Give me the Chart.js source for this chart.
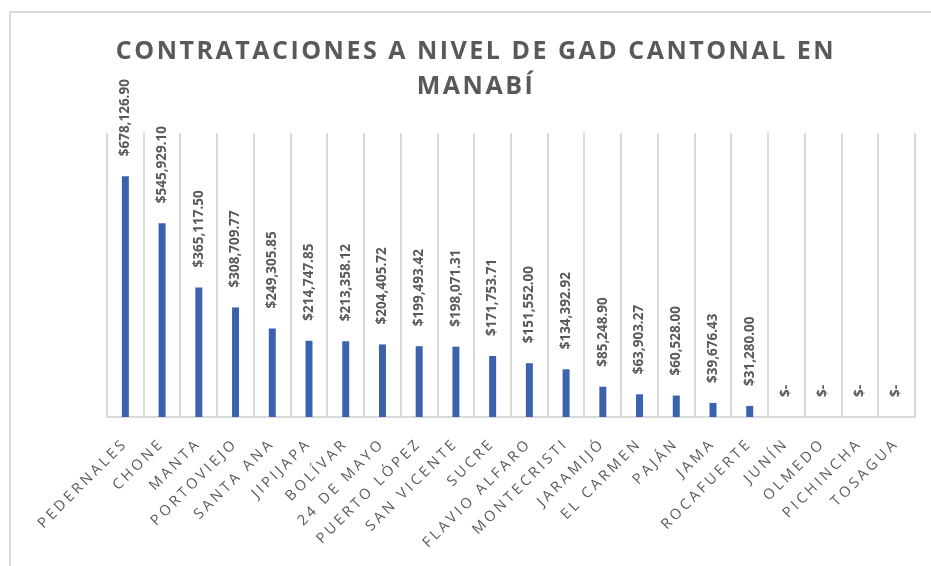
<!DOCTYPE html>
<html>
<head>
<meta charset="utf-8">
<script src="https://cdn.jsdelivr.net/npm/chart.js@4"></script>
<style>
  html, body { margin: 0; padding: 0; background: #fff; overflow: hidden; }
  #frame { position: absolute; left: 9px; top: 11px; width: 960px; height: 600px; border: 2px solid #d9d9d9; }
  #chart { position: absolute; left: 0; top: 0; }
</style>
</head>
<body>
<div id="frame"></div>
<canvas id="chart" width="931" height="566"></canvas>
<script>
const tituloLineas = ['CONTRATACIONES A NIVEL DE GAD CANTONAL EN', 'MANABÍ'];

const cantones = ['PEDERNALES', 'CHONE', 'MANTA', 'PORTOVIEJO', 'SANTA ANA', 'JIPIJAPA', 'BOLÍVAR',
    '24 DE MAYO', 'PUERTO LÓPEZ', 'SAN VICENTE', 'SUCRE', 'FLAVIO ALFARO', 'MONTECRISTI', 'JARAMIJÓ',
    'EL CARMEN', 'PAJÁN', 'JAMA', 'ROCAFUERTE', 'JUNÍN', 'OLMEDO', 'PICHINCHA', 'TOSAGUA'];

const montos = [678126.90, 545929.10, 365117.50, 308709.77, 249305.85, 214747.85, 213358.12,
    204405.72, 199493.42, 198071.31, 171753.71, 151552.00, 134392.92, 85248.90,
    63903.27, 60528.00, 39676.43, 31280.00, 0, 0, 0, 0];

const gris = '#595959';

function formatoMonto(v) {
    if (!v) return '$-';
    return '$' + v.toLocaleString('en-US', { minimumFractionDigits: 2, maximumFractionDigits: 2 });
}

// spaced-out letters for the category labels, like the Excel original
const espaciado = {
    id: 'espaciado',
    beforeLayout(chart) { chart.ctx.letterSpacing = '3.2px'; },
    beforeDraw(chart) { chart.ctx.letterSpacing = '3.2px'; }
};

const etiquetas = {
    id: 'etiquetas',
    beforeDatasetsDraw(chart) {
        // vertical separators between categories
        const ctx = chart.ctx;
        const x = chart.scales.x;
        const area = chart.chartArea;
        const paso = x.width / cantones.length;
        ctx.save();
        ctx.strokeStyle = '#d9d9d9';
        ctx.lineWidth = 2;
        ctx.beginPath();
        for (let i = 0; i <= cantones.length; i++) {
            const px = Math.round(x.left + i * paso);
            ctx.moveTo(px, area.top);
            ctx.lineTo(px, area.bottom);
        }
        ctx.stroke();
        ctx.restore();
    },
    afterDatasetsDraw(chart) {
        const ctx = chart.ctx;
        const meta = chart.getDatasetMeta(0);
        ctx.save();
        ctx.letterSpacing = '0px';
        ctx.font = 'bold 13.5px "Open Sans"';
        ctx.fillStyle = gris;
        ctx.textAlign = 'left';
        ctx.textBaseline = 'middle';
        meta.data.forEach((bar, i) => {
            ctx.save();
            ctx.translate(bar.x, bar.y - 20);
            ctx.rotate(-Math.PI / 2);
            ctx.fillText(formatoMonto(montos[i]), 0, 0);
            ctx.restore();
        });
        ctx.restore();
    },
    afterDraw(chart) {
        const ctx = chart.ctx;
        ctx.save();
        ctx.letterSpacing = '2.5px';
        ctx.font = 'bold 25px "Open Sans"';
        ctx.fillStyle = gris;
        ctx.textAlign = 'center';
        ctx.textBaseline = 'middle';
        tituloLineas.forEach((t, i) => ctx.fillText(t, 476, 52 + i * 35));
        ctx.restore();
    }
};

new Chart(document.getElementById('chart').getContext('2d'), {
    type: 'bar',
    data: {
        labels: cantones,
        datasets: [{
            data: montos,
            backgroundColor: '#3c62ae',
            barThickness: 7,
            inflateAmount: 0
        }]
    },
    options: {
        responsive: false,
        animation: false,
        layout: { padding: { left: 107, right: 16, top: 133, bottom: 0 } },
        plugins: {
            legend: { display: false },
            title: { display: false },
            tooltip: { enabled: false }
        },
        scales: {
            x: {
                grid: { display: false },
                border: { color: '#d9d9d9', width: 2 },
                ticks: {
                    color: gris,
                    font: { family: 'Open Sans', size: 14.5 },
                    minRotation: 45,
                    maxRotation: 45,
                    autoSkip: false,
                    padding: 10
                },
                afterFit(scale) { scale.height = 149; }
            },
            y: {
                display: false,
                min: 0,
                max: 800000
            }
        }
    },
    plugins: [espaciado, etiquetas]
});
</script>
</body>
</html>
